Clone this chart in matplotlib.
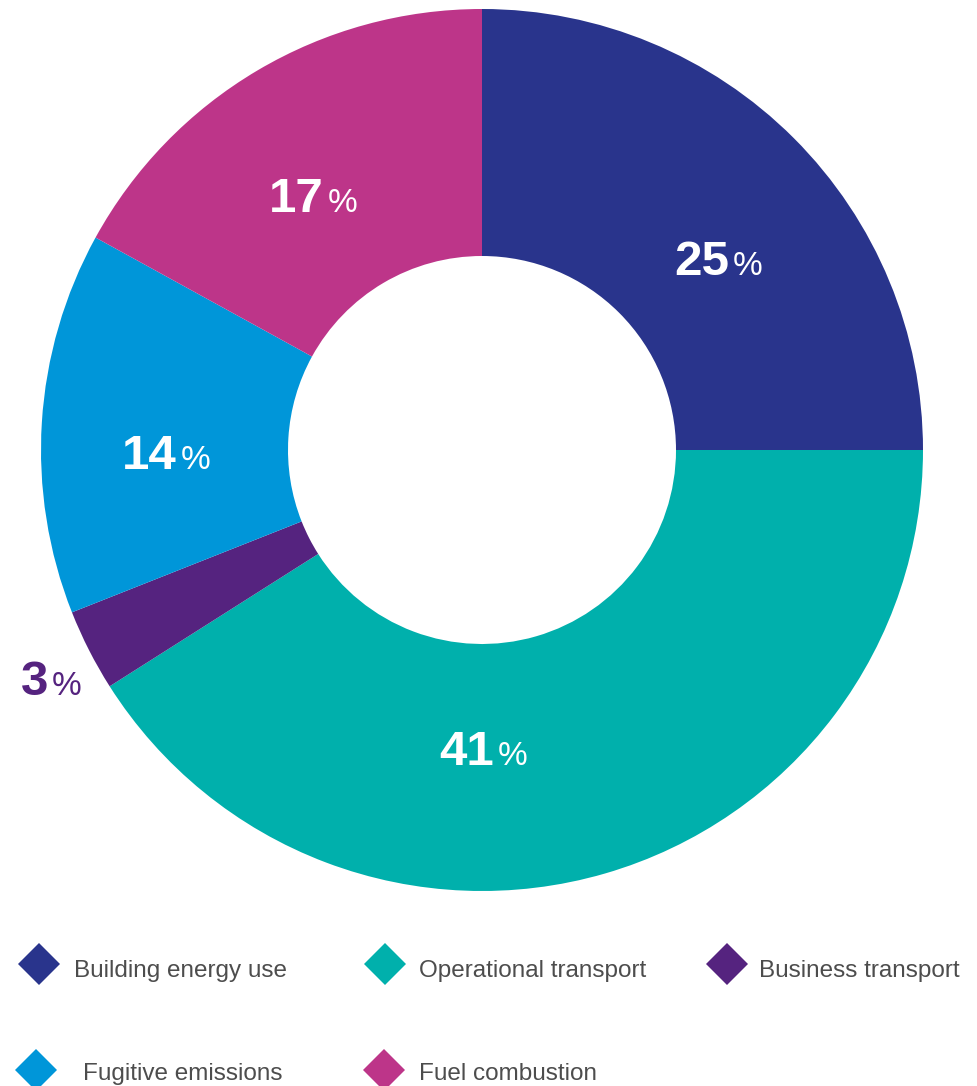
import matplotlib.pyplot as plt

plt.rcParams['font.family'] = ['Liberation Sans', 'DejaVu Sans']

# emission shares by source (%)
categories = ['Building energy use', 'Operational transport', 'Business transport',
              'Fugitive emissions', 'Fuel combustion']
shares = [25, 41, 3, 14, 17]
colors = ['#29348c', '#00b0ac', '#55237f', '#0096d9', '#bd3589']

H = 1086
fig = plt.figure(figsize=(9.78, 10.86), dpi=100)
ax = fig.add_axes([0, 0, 1, 1])

cx, cy, r_out, r_in = 482, 450, 441, 194
ax.pie(shares, colors=colors, startangle=90, counterclock=False,
       center=(cx, H - cy), radius=r_out, frame=True,
       wedgeprops=dict(width=r_out - r_in, linewidth=0))
ax.set_xlim(0, 978)
ax.set_ylim(0, H)
ax.set_aspect('equal')
ax.axis('off')

# percentage labels: (split x between number and %, baseline y, text colour)
label_pos = [(729, 275, 'white'), (494, 765, 'white'), (48, 695, '#55237f'),
             (177, 469, 'white'), (324, 212, 'white')]
for v, (x, y, c) in zip(shares, label_pos):
    ax.text(x, H - y, str(v), ha='right', va='baseline', fontsize=35.5,
            fontweight='bold', color=c)
    ax.text(x + 4, H - y, '%', ha='left', va='baseline', fontsize=24,
            color=c)

# legend rows
legend_pos = [(39, 964, 74, 977), (385, 964, 419, 977), (727, 964, 759, 977),
              (36, 1070, 83, 1080), (384, 1070, 419, 1080)]
for name, c, (mx, my, tx, ty) in zip(categories, colors, legend_pos):
    ax.plot(mx, H - my, marker='D', markersize=21, color=c, markeredgewidth=0)
    ax.text(tx, H - ty, name, ha='left', va='baseline', fontsize=17.5,
            color='#4d4d4d')

fig.savefig('out.png', dpi=100)
